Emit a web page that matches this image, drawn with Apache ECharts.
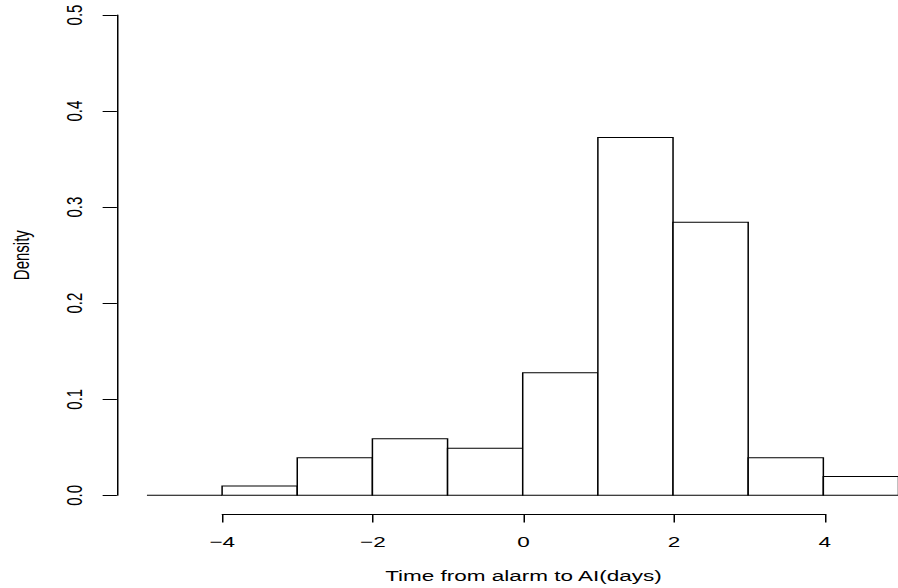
<!DOCTYPE html>
<html>
<head>
<meta charset="utf-8">
<script src="https://cdn.jsdelivr.net/npm/echarts@6/dist/echarts.min.js"></script>
<style>
  html, body { margin: 0; padding: 0; background: #fff; overflow: hidden; }
  /* the plot is drawn at 1/1.5 width and stretched horizontally */
  #chart { position: absolute; left: 0; top: 0; width: 598.667px; height: 588px;
           transform: scaleX(1.5); transform-origin: 0 0; }
</style>
</head>
<body>
<div id="chart"></div>
<script>
// Histogram of time from alarm to AI, in days (density scale)
const binStarts = [-5, -4, -3, -2, -1, 0, 1, 2, 3, 4];
const binWidth = 1;
const counts = [0, 1, 4, 6, 5, 13, 38, 29, 4, 2];
const xTicks = [-4, -2, 0, 2, 4];
const yTicks = [0, 0.1, 0.2, 0.3, 0.4, 0.5];
const xTitle = 'Time from alarm to AI(days)';
const yTitle = 'Density';

const total = counts.reduce((a, b) => a + b, 0);
const bins = binStarts.map((lo, i) => [lo, lo + binWidth, counts[i] / (total * binWidth)]);

// layout (unstretched pixels)
const UNIT = 50.2;            // px per day
const AX_LEFT = 148.2;        // x = -4
const PLOT_LEFT = AX_LEFT - 1.4 * UNIT;
const TOP = 15;               // y = 0.5
const PER_Y = 960.6;          // px per 1.0 density
const FONT = 'Liberation Sans, Arial, Helvetica, sans-serif';
const FS = 15;

const chart = echarts.init(document.getElementById('chart'), null, { renderer: 'svg' });

const hidden = { show: false };

chart.setOption({
  animation: false,
  backgroundColor: '#fff',
  grid: [
    // plotting region
    { left: PLOT_LEFT, top: TOP, width: 10.4 * UNIT, height: 0.52 * PER_Y },
    // x axis (-4 .. 4)
    { left: AX_LEFT, top: TOP, width: 8 * UNIT, height: 0.52 * PER_Y },
    // y axis (0 .. 0.5)
    { left: PLOT_LEFT, top: TOP, width: 10, height: 0.5 * PER_Y }
  ],
  xAxis: [
    { gridIndex: 0, type: 'value', min: -5.4, max: 5, show: false },
    {
      gridIndex: 1, type: 'value', min: -4, max: 4, interval: 2, position: 'bottom',
      axisLine: { show: true, onZero: false, lineStyle: { color: '#000', width: 1 } },
      axisTick: { show: true, length: 8.5, inside: false, lineStyle: { color: '#000', width: 1 } },
      axisLabel: {
        margin: 20, color: '#000', fontFamily: FONT, fontSize: FS,
        customValues: xTicks,
        formatter: v => (v < 0 ? '\u2212' + Math.abs(v) : String(v))
      },
      splitLine: hidden,
      name: xTitle, nameLocation: 'middle', nameGap: 54,
      nameTextStyle: { color: '#000', fontFamily: FONT, fontSize: FS }
    },
    { gridIndex: 2, type: 'value', show: false }
  ],
  yAxis: [
    { gridIndex: 0, type: 'value', min: -0.02, max: 0.5, show: false },
    { gridIndex: 1, type: 'value', min: -0.02, max: 0.5, show: false },
    {
      gridIndex: 2, type: 'value', min: 0, max: 0.5, interval: 0.1, position: 'left',
      axisLine: { show: true, onZero: false, lineStyle: { color: '#000', width: 1 } },
      axisTick: { show: true, length: 9.5, inside: false, lineStyle: { color: '#000', width: 1 } },
      axisLabel: {
        margin: 21, rotate: 90, color: '#000', fontFamily: FONT, fontSize: FS,
        customValues: yTicks,
        formatter: v => v.toFixed(1)
      },
      splitLine: hidden,
      name: yTitle, nameLocation: 'middle', nameGap: 56,
      nameTextStyle: { color: '#000', fontFamily: FONT, fontSize: FS }
    }
  ],
  series: [{
    type: 'custom',
    xAxisIndex: 0,
    yAxisIndex: 0,
    data: bins,
    renderItem: (params, api) => {
      const lo = api.value(0), hi = api.value(1), d = api.value(2);
      const a = api.coord([lo, 0]);
      const b = api.coord([hi, d]);
      return {
        type: 'polygon',
        shape: { points: [[a[0], a[1]], [a[0], b[1]], [b[0], b[1]], [b[0], a[1]]] },
        style: { fill: '#fff', stroke: '#000', lineWidth: 1 }
      };
    }
  }]
});
</script>
</body>
</html>
